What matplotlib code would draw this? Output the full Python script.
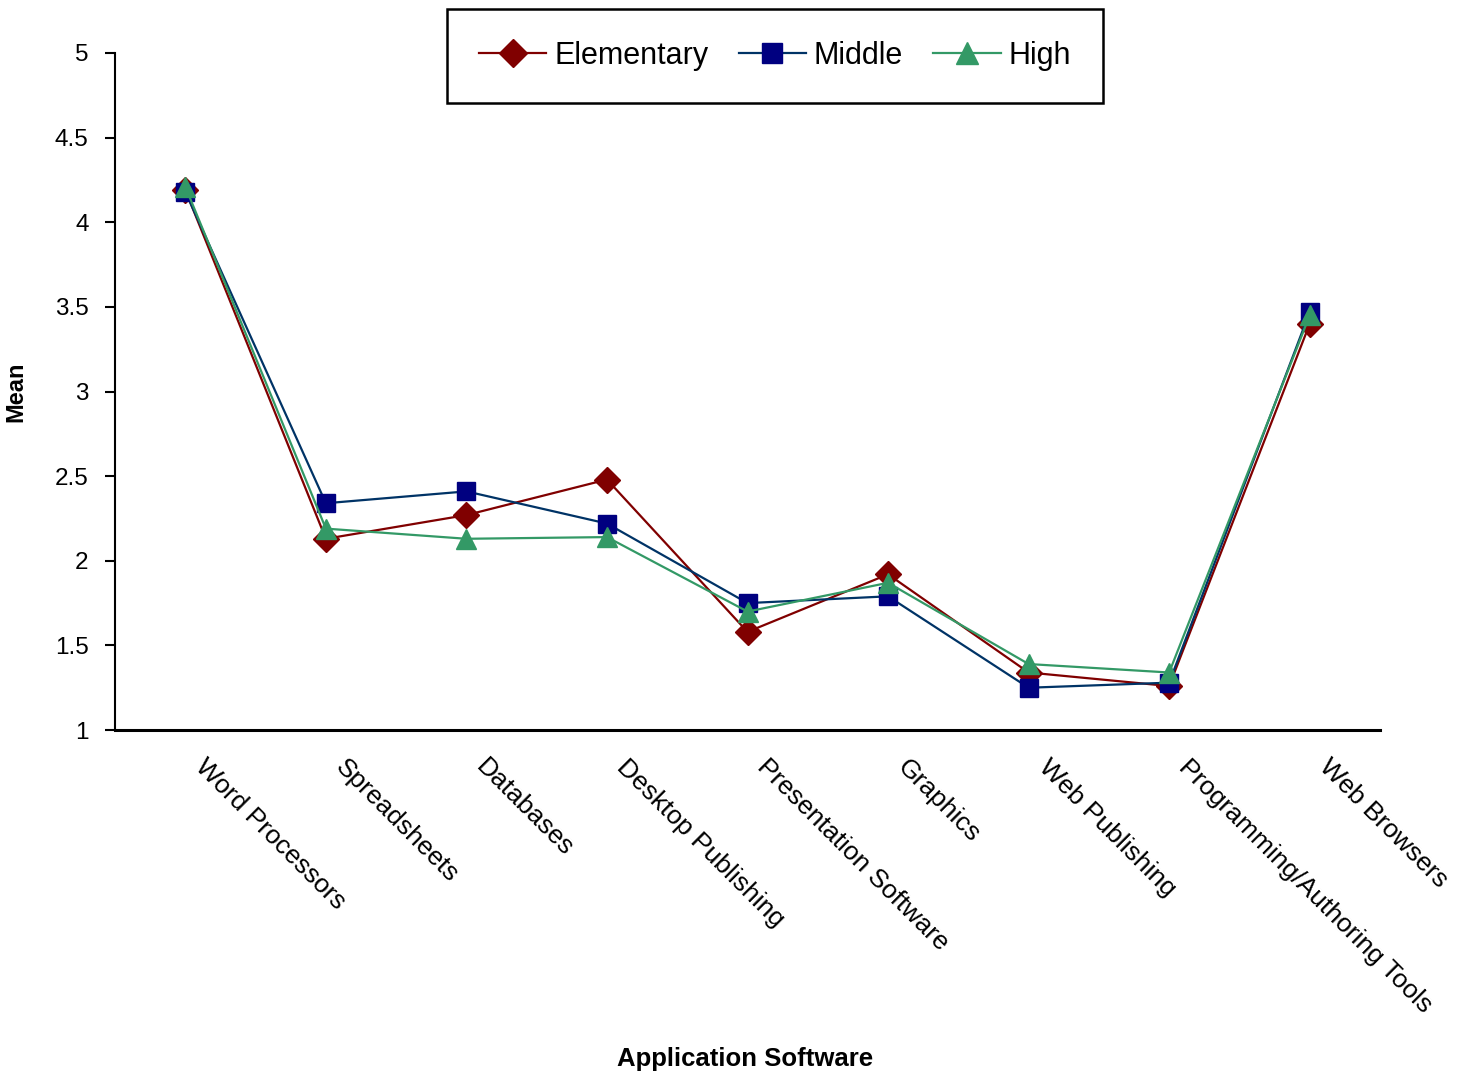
import matplotlib.pyplot as plt
from matplotlib.transforms import ScaledTranslation

plt.rcParams['font.family'] = ['Liberation Sans', 'DejaVu Sans']

# Mean ratings by school level for each kind of application software
categories = ['Word Processors', 'Spreadsheets', 'Databases', 'Desktop Publishing',
              'Presentation Software', 'Graphics', 'Web Publishing',
              'Programming/Authoring Tools', 'Web Browsers']
elementary = [4.19, 2.13, 2.27, 2.48, 1.58, 1.92, 1.34, 1.26, 3.40]
middle = [4.18, 2.34, 2.41, 2.22, 1.75, 1.79, 1.25, 1.28, 3.47]
high = [4.21, 2.19, 2.13, 2.14, 1.70, 1.87, 1.39, 1.34, 3.45]
y_ticks = [1, 1.5, 2, 2.5, 3, 3.5, 4, 4.5, 5]

fig = plt.figure(figsize=(14.58, 10.79), dpi=100)
ax = fig.add_axes([0.0789, 0.3234, 0.8676, 0.6275])

x = list(range(len(categories)))
ax.plot(x, elementary, color='#800000', lw=1.6, marker='D', ms=13,
        mfc='#800000', mec='#800000', label='Elementary')
ax.plot(x, middle, color='#003366', lw=1.6, marker='s', ms=13,
        mfc='#000080', mec='#000080', label='Middle')
ax.plot(x, high, color='#339966', lw=1.6, marker='^', ms=15,
        mfc='#339966', mec='#339966', label='High')

ax.set_xlim(-0.5, len(categories) - 0.5)
ax.set_ylim(1, 5)
ax.set_yticks(y_ticks)
ax.set_yticklabels([f'{v:g}' for v in y_ticks], fontsize=17.5)
ax.tick_params(axis='y', direction='out', length=7, width=1.5, pad=12)

# category names run diagonally down to the right, starting just past each point
ax.set_xticks(x)
ax.set_xticklabels(categories, rotation=-45, ha='left', va='top',
                   rotation_mode='anchor', fontsize=19)
ax.tick_params(axis='x', length=0, pad=18)
shift = ScaledTranslation(0.22, 0, fig.dpi_scale_trans)
for lbl in ax.get_xticklabels():
    lbl.set_transform(lbl.get_transform() + shift)

for side in ('top', 'right'):
    ax.spines[side].set_visible(False)
ax.spines['left'].set_linewidth(1.5)
ax.spines['bottom'].set_linewidth(2.2)

ax.set_ylabel('Mean', fontsize=17, fontweight='bold')
ax.yaxis.set_label_coords(-0.0696, 0.5)
fig.text(0.511, 0.0185, 'Application Software', fontsize=18.5, fontweight='bold',
         ha='center', va='center')

leg = fig.legend(loc='center', bbox_to_anchor=(0.5315, 0.948), ncol=3,
                 fontsize=22, frameon=True, fancybox=False, framealpha=1,
                 handlelength=2.2, columnspacing=1.0, handletextpad=0.25,
                 borderpad=1.05, borderaxespad=0, markerscale=1.1)
leg.get_frame().set_edgecolor('black')
leg.get_frame().set_linewidth(1.8)

fig.savefig('out.png', dpi=100, facecolor='white')
